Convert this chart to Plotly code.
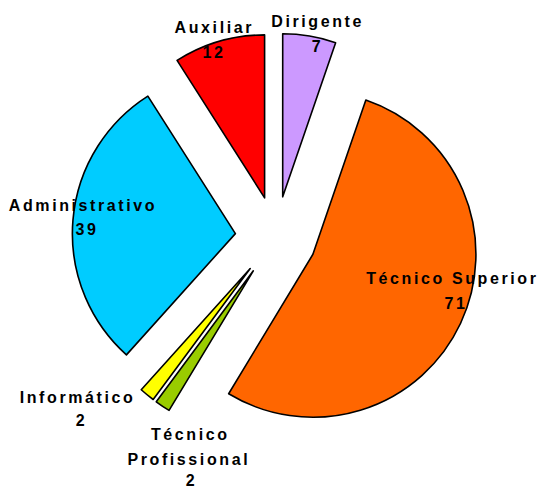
import plotly.graph_objects as go

# ---- data ----
categories = ["Dirigente", "Técnico Superior", "Técnico Profissional",
              "Informático", "Administrativo", "Auxiliar"]
values = [7, 71, 2, 2, 39, 12]
colors = ["#CC99FF", "#FF6600", "#99CC00", "#FFFF00", "#00CCFF", "#FF0000"]
# how each category label is broken into lines
label_lines = {
    "Técnico Profissional": ["Técnico", "Profissional"],
}

# ---- layout (label line centres in pixel coords, top-left origin) ----
W, H = 539, 488
label_pos = {
    "Dirigente": [(317, 21), (317, 46)],
    "Técnico Superior": [(452, 278), (456, 303)],
    "Técnico Profissional": [(190, 434), (189, 459), (191, 480)],
    "Informático": [(77, 397), (81, 421)],
    "Administrativo": [(83, 205), (87, 229)],
    "Auxiliar": [(214, 28), (214, 53)],
}

fig = go.Figure(go.Pie(
    labels=categories,
    values=values,
    marker=dict(colors=colors, line=dict(color="black", width=1.6)),
    sort=False,
    direction="clockwise",
    rotation=0,
    pull=[0.25] * len(values),
    textinfo="none",
    hoverinfo="label+value",
    showlegend=False,
    domain=dict(x=[72.25 / W, 479.75 / W], y=[(H - 440.75) / H, (H - 33.25) / H]),
))

annotations = []
for cat, val in zip(categories, values):
    lines = label_lines.get(cat, [cat]) + [str(val)]
    for txt, (px, py) in zip(lines, label_pos[cat]):
        annotations.append(dict(
            x=px / W, y=(H - py) / H, xref="paper", yref="paper",
            text="<b>" + txt + "</b>", showarrow=False,
            xanchor="center", yanchor="middle",
            font=dict(family="Liberation Sans, Arial, sans-serif", size=16, color="black"),
        ))

fig.update_layout(
    width=W, height=H,
    margin=dict(l=0, r=0, t=0, b=0),
    paper_bgcolor="white",
    plot_bgcolor="white",
    annotations=annotations,
)

post = ("document.body.style.margin='0';"
        "document.querySelectorAll('.annotation-text').forEach(function(e){"
        "e.style.letterSpacing='2.6px';});")
fig.write_html("out.html", post_script=post, config={"displayModeBar": False})
